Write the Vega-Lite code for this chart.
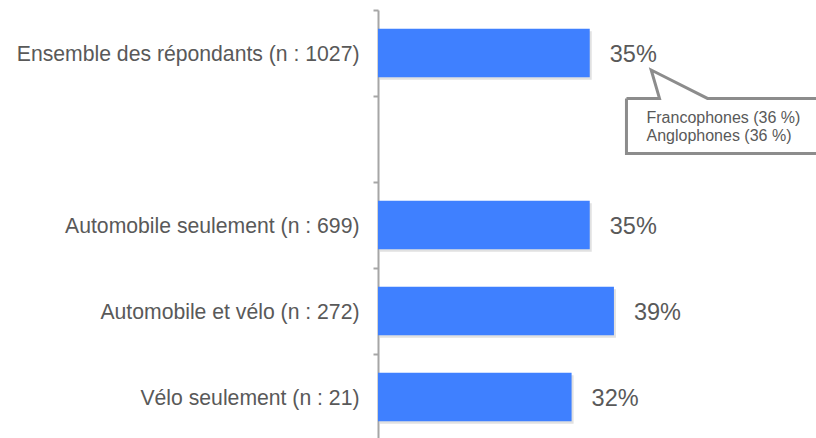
{
  "$schema": "https://vega.github.io/schema/vega-lite/v6.json",
  "width": 438,
  "height": 430,
  "autosize": "none",
  "padding": {"left": 378, "top": 10, "right": 0, "bottom": 0},
  "background": "white",
  "config": {
    "view": {"stroke": null},
    "font": "Liberation Sans"
  },
  "resolve": {"scale": {"y": "independent"}, "axis": {"y": "independent"}},
  "layer": [
    {
      "data": {"values": [
        {"cat": "Ensemble des répondants (n : 1027)", "value": 0.35},
        {"cat": "Automobile seulement (n : 699)", "value": 0.35},
        {"cat": "Automobile et vélo (n : 272)", "value": 0.39},
        {"cat": "Vélo seulement (n : 21)", "value": 0.32}
      ]},
      "encoding": {
        "y": {
          "field": "cat", "type": "nominal",
          "scale": {"domain": ["Ensemble des répondants (n : 1027)", " ", "Automobile seulement (n : 699)", "Automobile et vélo (n : 272)", "Vélo seulement (n : 21)"], "padding": 0},
          "axis": {
            "title": null, "tickBand": "extent", "labelFontSize": 21.2, "labelColor": "#595959",
            "labelPadding": 14, "tickSize": 5, "tickColor": "#a6a6a6", "tickWidth": 2,
            "domainColor": "#a6a6a6", "domainWidth": 2, "labelLimit": 0, "labelFont": "Liberation Sans",
            "labelOffset": 1.5
          }
        },
        "x": {"field": "value", "type": "quantitative", "scale": {"domain": [0, 0.724], "nice": false}, "axis": null}
      },
      "layer": [
        {"mark": {"type": "bar", "height": {"band": 0.565}, "color": "#d4d4d4", "xOffset": 2, "yOffset": 2.5, "opacity": 0.7}},
        {"mark": {"type": "bar", "height": {"band": 0.565}, "color": "#3f80ff"}},
        {"mark": {"type": "text", "align": "left", "baseline": "middle", "dx": 20, "dy": 2, "fontSize": 23.5, "color": "#595959", "font": "Liberation Sans"},
         "encoding": {"text": {"field": "value", "type": "quantitative", "format": ".0%"}}}
      ]
    },
    {
      "data": {"values": [
        {"px": 0.4107, "py": 1.028, "ord": 1},
        {"px": 0.4653, "py": 1.028, "ord": 2},
        {"px": 0.4516, "py": 0.698, "ord": 3},
        {"px": 0.5446, "py": 1.028, "ord": 4},
        {"px": 0.74, "py": 1.028, "ord": 5},
        {"px": 0.74, "py": 1.670, "ord": 6},
        {"px": 0.4107, "py": 1.670, "ord": 7},
        {"px": 0.4107, "py": 1.028, "ord": 8}
      ]},
      "mark": {"type": "line", "color": "#8c8c8c", "strokeWidth": 3, "strokeJoin": "miter", "clip": false},
      "encoding": {
        "x": {"field": "px", "type": "quantitative", "scale": {"domain": [0, 0.724], "nice": false}, "axis": null},
        "y": {"field": "py", "type": "quantitative", "scale": {"domain": [0, 5], "reverse": true, "nice": false, "zero": false}, "axis": null},
        "order": {"field": "ord", "type": "quantitative"}
      }
    },
    {
      "data": {"values": [
        {"px": 0.4438, "py": 1.315, "t": "Francophones (36 %)"},
        {"px": 0.4438, "py": 1.519, "t": "Anglophones (36 %)"}
      ]},
      "mark": {"type": "text", "align": "left", "baseline": "alphabetic", "fontSize": 16, "color": "#595959", "font": "Liberation Sans"},
      "encoding": {
        "x": {"field": "px", "type": "quantitative", "scale": {"domain": [0, 0.724], "nice": false}, "axis": null},
        "y": {"field": "py", "type": "quantitative", "scale": {"domain": [0, 5], "reverse": true, "nice": false, "zero": false}, "axis": null},
        "text": {"field": "t"}
      }
    }
  ]
}
